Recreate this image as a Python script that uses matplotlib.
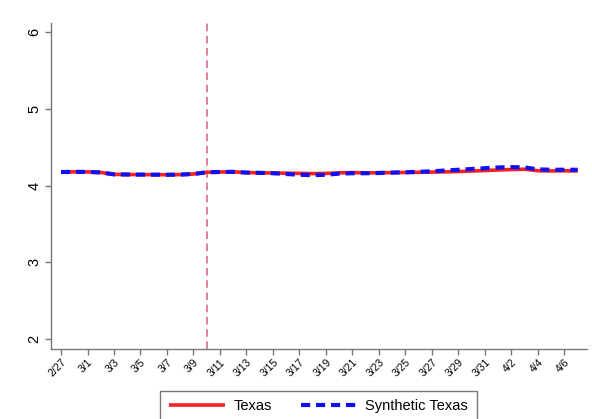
import matplotlib
matplotlib.use("Agg")
import matplotlib.pyplot as plt
import numpy as np

dates = ["2/27", "2/28"] + [f"3/{d}" for d in range(1, 32)] + [f"4/{d}" for d in range(1, 8)]

texas = [4.175, 4.178, 4.177, 4.170, 4.145, 4.143, 4.142, 4.141, 4.140, 4.142,
         4.150, 4.172, 4.176, 4.178, 4.168, 4.165, 4.163, 4.160, 4.158, 4.155,
         4.157, 4.165, 4.168, 4.165, 4.166, 4.168, 4.170, 4.172, 4.175, 4.178,
         4.182, 4.188, 4.195, 4.202, 4.208, 4.212, 4.192, 4.190, 4.192, 4.190]

synthetic = [4.175, 4.178, 4.177, 4.170, 4.145, 4.143, 4.142, 4.141, 4.140, 4.142,
             4.150, 4.172, 4.176, 4.178, 4.168, 4.165, 4.160, 4.150, 4.140, 4.135,
             4.140, 4.155, 4.160, 4.160, 4.163, 4.168, 4.172, 4.178, 4.185, 4.195,
             4.205, 4.215, 4.225, 4.235, 4.240, 4.235, 4.210, 4.205, 4.205, 4.205]

tick_labels = dates[0:1] + dates[2::2][:19]
tick_idx = [0] + list(range(2, 40, 2))[:19]
treat_date = "3/10"

plt.rcParams['font.family'] = ['Liberation Sans', 'DejaVu Sans']

fig = plt.figure(figsize=(5.92, 4.19), dpi=100)
ax = fig.add_axes([51/592, 70/419, 536/592, 326/419])

x = np.arange(len(dates))
ax.plot(x, texas, color='#ff2020', lw=2.6, solid_capstyle='butt', label='Texas', zorder=3)
ax.plot(x, synthetic, color='#1010ee', lw=3.0, ls=(0, (2.2, 1.4)), dash_capstyle='butt',
        label='Synthetic Texas', zorder=4)
ax.axvline(dates.index(treat_date), color='#d4607a', lw=1.1, ls=(0, (5, 3)), zorder=2)

ax.set_xlim(-0.755, 39.7)
ax.set_ylim(1.870, 6.117)
ax.set_yticks([2, 3, 4, 5, 6])
ax.set_yticklabels(['2', '3', '4', '5', '6'], rotation=90, va='center', fontsize=10.5)
ax.set_xticks(tick_idx)
ax.set_xticklabels(tick_labels, rotation=45, ha='right', rotation_mode='anchor', fontsize=7.5)

for s in ['top', 'right']:
    ax.spines[s].set_visible(False)
for s in ['left', 'bottom']:
    ax.spines[s].set_color('#777777')
    ax.spines[s].set_linewidth(1.0)
ax.tick_params(axis='both', colors='#777777', length=4, width=1.0, labelcolor='black')
ax.tick_params(axis='x', pad=2)
ax.tick_params(axis='y', pad=3)

leg = fig.legend(loc='lower center', bbox_to_anchor=(0.538, -0.025), ncol=2, fontsize=10.5,
                 frameon=True, fancybox=False, handlelength=3.8, columnspacing=2.0,
                 borderpad=0.6, handletextpad=0.6)
leg.get_frame().set_edgecolor('#555555')
leg.get_frame().set_linewidth(1.0)

fig.savefig('out.png', dpi=100)
